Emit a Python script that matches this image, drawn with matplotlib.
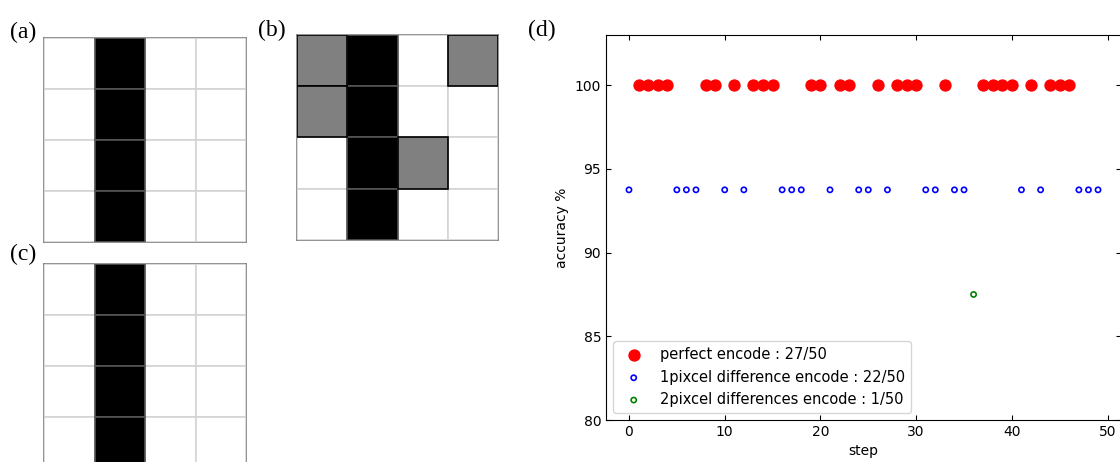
import numpy as np
import matplotlib
matplotlib.use("Agg")
import matplotlib.pyplot as plt
from matplotlib.patches import Rectangle

# pixel patterns, 0 = white, 1 = black, 0.5 = gray
grid_a = [[0, 1, 0, 0],
          [0, 1, 0, 0],
          [0, 1, 0, 0],
          [0, 1, 0, 0]]
grid_b = [[0.5, 1, 0, 0.5],
          [0.5, 1, 0, 0],
          [0, 1, 0.5, 0],
          [0, 1, 0, 0]]
grid_c = [[0, 1, 0, 0],
          [0, 1, 0, 0],
          [0, 1, 0, 0],
          [0, 1, 0, 0]]

# accuracy per step
perfect_steps = [1, 2, 3, 4, 8, 9, 11, 13, 14, 15, 19, 20, 22, 23, 26, 28, 29, 30,
                 33, 37, 38, 39, 40, 42, 44, 45, 46]
one_pix_steps = [0, 5, 6, 7, 10, 12, 16, 17, 18, 21, 24, 25, 27, 31, 32, 34, 35,
                 41, 43, 47, 48, 49]
two_pix_steps = [36]
perfect_acc = 100.0
one_pix_acc = 93.75
two_pix_acc = 87.5

fig = plt.figure(figsize=(11.2, 4.62), dpi=100)
W, H = 1120, 462


def pix_axes(x0, y0, x1, y1):
    return fig.add_axes([x0 / W, 1 - y1 / H, (x1 - x0) / W, (y1 - y0) / H])


def draw_grid(ax, grid):
    g = np.array(grid)
    n = g.shape[0]
    # light grid first
    for i in range(n):
        for j in range(n):
            ax.add_patch(Rectangle((j, i), 1, 1, facecolor="white",
                                   edgecolor="#d4d4d4", lw=1.2, zorder=1))
    for i in range(n):
        for j in range(n):
            v = g[i, j]
            if v == 1:
                ax.add_patch(Rectangle((j, i), 1, 1, facecolor="black",
                                       edgecolor="#555555", lw=1.2, zorder=2))
    for i in range(n):
        for j in range(n):
            v = g[i, j]
            if v == 0.5:
                ax.add_patch(Rectangle((j, i), 1, 1, facecolor="#808080",
                                       edgecolor="black", lw=1.2, zorder=3))
    ax.set_xlim(0, n)
    ax.set_ylim(n, 0)
    ax.set_xticks([])
    ax.set_yticks([])
    for s in ax.spines.values():
        s.set_color("#808080")
        s.set_linewidth(1.2)
        s.set_zorder(0)


ax_a = pix_axes(44, 38, 246, 242)
draw_grid(ax_a, grid_a)
ax_b = pix_axes(297, 35, 498, 240)
draw_grid(ax_b, grid_b)
ax_c = pix_axes(44, 264, 246, 468)
draw_grid(ax_c, grid_c)

serif = dict(family="Liberation Serif", fontsize=17)
fig.text(10 / W, 1 - 32 / H, "(a)", **serif, va="center")
fig.text(258 / W, 1 - 30 / H, "(b)", **serif, va="center")
fig.text(10 / W, 1 - 254 / H, "(c)", **serif, va="center")
fig.text(528 / W, 1 - 30 / H, "(d)", **serif, va="center")

ax = pix_axes(606, 35, 1121, 420)
ax.scatter(perfect_steps, [perfect_acc] * len(perfect_steps), s=62, color="red",
           label="perfect encode : %d/50" % len(perfect_steps), zorder=3)
ax.scatter(one_pix_steps, [one_pix_acc] * len(one_pix_steps), s=14,
           facecolors="none", edgecolors="blue", linewidths=1.2,
           label="1pixcel difference encode : %d/50" % len(one_pix_steps), zorder=3)
ax.scatter(two_pix_steps, [two_pix_acc] * len(two_pix_steps), s=14,
           facecolors="none", edgecolors="green", linewidths=1.2,
           label="2pixcel differences encode : %d/50" % len(two_pix_steps), zorder=3)
ax.set_xlim(-2.4, 51.4)
ax.set_ylim(80, 103)
ax.set_xticks([0, 10, 20, 30, 40, 50])
ax.set_yticks([80, 85, 90, 95, 100])
ax.tick_params(direction="in", top=True, right=True, labelsize=10)
ax.set_xlabel("step", fontsize=10)
ax.set_ylabel("accuracy %", fontsize=10)
ax.legend(loc="lower left", fontsize=10.5)

fig.savefig("out.png", dpi=100)
